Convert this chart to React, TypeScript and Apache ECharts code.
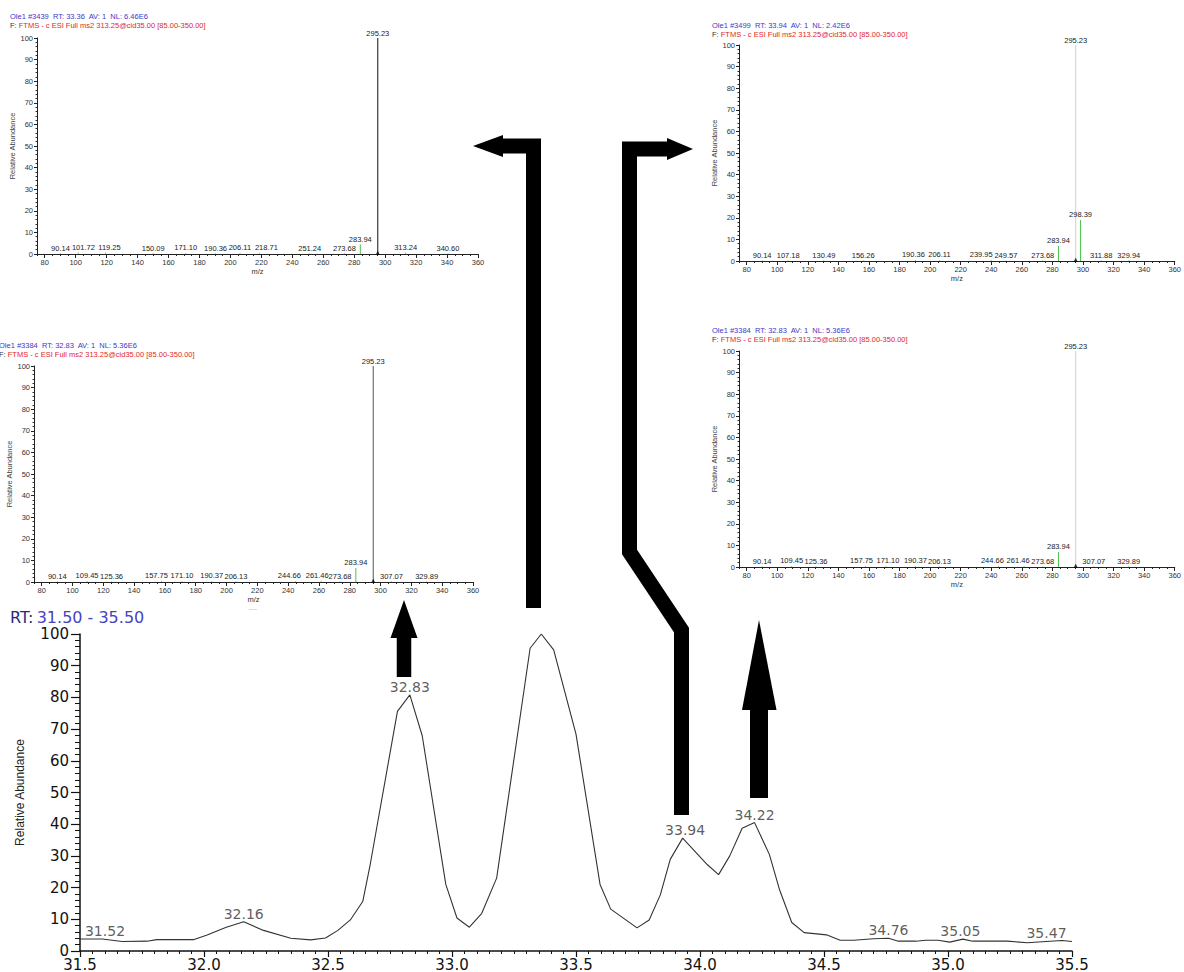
import React, { useEffect, useRef } from 'react';
import * as echarts from 'echarts';

// ---------- Chromatogram data ----------
const rtValues = [
  31.5, 31.59, 31.67, 31.77, 31.81, 31.96, 32.01, 32.09, 32.16, 32.24, 32.35, 32.43, 32.49, 32.54,
  32.59, 32.64, 32.67, 32.78, 32.83, 32.88, 32.975, 33.02, 33.07, 33.12, 33.18, 33.315, 33.36,
  33.41, 33.5, 33.597, 33.64, 33.746, 33.795, 33.84, 33.88, 33.93, 34.03, 34.075, 34.12, 34.17,
  34.22, 34.28, 34.32, 34.37, 34.42, 34.51, 34.565, 34.62, 34.7, 34.76, 34.8, 34.87, 34.91, 34.96,
  35.007, 35.06, 35.1, 35.18, 35.24, 35.32, 35.395, 35.46, 35.5,
];
const abundance = [
  3.8, 3.8, 3.0, 3.1, 3.6, 3.6, 5.0, 7.5, 9.2, 6.5, 4.0, 3.5, 4.1, 6.5,
  9.8, 15.6, 27.2, 75.6, 80.8, 67.9, 21, 10.4, 7.5, 11.9, 23, 95.5, 100,
  95, 68.4, 21, 13.2, 7.3, 9.8, 17.7, 28.9, 35.6, 27.2, 24.1, 30, 38.75,
  40.5, 30.4, 19.5, 9, 5.8, 5.1, 3.4, 3.4, 3.85, 4.0, 3.1, 3.1, 3.4, 3.4,
  2.8, 3.75, 3.1, 3.1, 3.1, 2.6, 3.0, 3.3, 3.0,
];
const peakRT = [31.52, 32.16, 32.83, 33.94, 34.22, 34.76, 35.05, 35.47];
const peakAbundance = [3.8, 9.2, 80.8, 35.6, 40.5, 4.0, 3.75, 3.3];
const rtTitle = '31.50 - 35.50';

// ---------- MS2 spectra data ----------
const mzA = [90.14, 101.72, 119.25, 150.09, 171.1, 190.36, 206.11, 218.71, 251.24, 273.68, 283.94, 295.23, 313.24, 340.6];
const intA = [0.3, 0.8, 0.8, 0.3, 0.5, 0.4, 0.5, 0.6, 0.3, 0.4, 4.5, 100, 0.8, 0.3];
const mzB = [90.14, 107.18, 130.49, 156.26, 190.36, 206.11, 239.95, 249.57, 273.68, 283.94, 295.23, 298.39, 311.88, 329.94];
const intB = [0.3, 0.3, 0.3, 0.3, 0.5, 0.5, 0.6, 0.4, 0.4, 7, 100, 19, 0.3, 0.3];
const mzC = [90.14, 109.45, 125.36, 157.75, 171.1, 190.37, 206.13, 244.66, 261.46, 273.68, 283.94, 295.23, 307.07, 329.89];
const intC = [0.3, 0.5, 0.3, 0.6, 0.5, 0.5, 0.3, 0.5, 0.5, 0.4, 6.5, 100, 0.3, 0.3];
const mzD = [90.14, 109.45, 125.36, 157.75, 171.1, 190.37, 206.13, 244.66, 261.46, 273.68, 283.94, 295.23, 307.07, 329.89];
const intD = [0.3, 0.5, 0.3, 0.6, 0.5, 0.5, 0.3, 0.5, 0.5, 0.4, 7, 100, 0.3, 0.3];
const scanA = 'Ole1 #3439  RT: 33.36  AV: 1  NL: 6.46E6';
const scanB = 'Ole1 #3499  RT: 33.94  AV: 1  NL: 2.42E6';
const scanC = 'Ole1 #3384  RT: 32.83  AV: 1  NL: 5.36E6';
const scanD = 'Ole1 #3384  RT: 32.83  AV: 1  NL: 5.36E6';
const filterLine = 'FTMS - c ESI Full ms2 313.25@cid35.00 [85.00-350.00]';
const precursorMz = 295.23;
const mzTicks = [80, 100, 120, 140, 160, 180, 200, 220, 240, 260, 280, 300, 320, 340, 360];

const FS = 'Liberation Sans, Arial, sans-serif';
const FM = 'DejaVu Sans, Verdana, sans-serif';

export default function App() {
  const ref = useRef<HTMLDivElement>(null);
  useEffect(() => {
    if (!ref.current) return;
    const chart = echarts.init(ref.current, undefined, { renderer: 'svg' });

    // label horizontal nudges (px) to keep crowded peak labels apart, as in the original
    const panels = [
      { mz: mzA, it: intA, scan: scanA, left: 37, top: 38, width: 441, main: '#111', hx: 10, hy: 16,
        shift: { 1: 5, 2: 4, 7: 7 } as Record<number, number> },
      { mz: mzB, it: intB, scan: scanB, left: 739, top: 45, width: 440, main: '#cfcfcf', hx: 712, hy: 25,
        shift: { 4: -2, 6: -10 } as Record<number, number> },
      { mz: mzC, it: intC, scan: scanC, left: 34, top: 366, width: 439, main: '#555', hx: -1, hy: 345,
        shift: { 3: -5, 7: -6, 8: -4 } as Record<number, number> },
      { mz: mzD, it: intD, scan: scanD, left: 739, top: 351, width: 440, main: '#cfcfcf', hx: 712, hy: 330,
        shift: { 3: -4, 4: 2, 7: -6, 8: -6 } as Record<number, number> },
    ];

    const grid: any[] = [];
    const xAxis: any[] = [];
    const yAxis: any[] = [];
    const series: any[] = [];
    const graphic: any[] = [];

    panels.forEach((p, i) => {
      grid.push({ left: p.left, top: p.top, width: p.width, height: 216 });
      xAxis.push({
        type: 'value', gridIndex: i, min: 75, max: 360, position: 'bottom',
        name: 'm/z', nameLocation: 'middle', nameGap: 13,
        nameTextStyle: { fontSize: 7.5, color: '#333', fontFamily: FS },
        axisLine: { show: true, onZero: false, lineStyle: { color: '#222', width: 1 } },
        axisTick: { show: true, length: 4, customValues: mzTicks, lineStyle: { color: '#222' } },
        axisLabel: { show: true, customValues: mzTicks, fontSize: 7.5, color: '#333', margin: 4, fontFamily: FS },
        splitLine: { show: false },
      });
      xAxis.push({
        type: 'value', gridIndex: i, min: 75, max: 360, interval: 5, position: 'bottom',
        axisLine: { show: false, onZero: false },
        axisTick: { show: true, length: 2, lineStyle: { color: '#222' } },
        axisLabel: { show: false },
        splitLine: { show: false },
      });
      yAxis.push({
        type: 'value', gridIndex: i, min: 0, max: 100, interval: 10,
        name: 'Relative Abundance', nameLocation: 'middle', nameGap: 17,
        nameTextStyle: { fontSize: 7.5, color: '#444', fontFamily: FS },
        axisLine: { show: true, lineStyle: { color: '#222', width: 1 } },
        axisTick: { show: true, length: 3, lineStyle: { color: '#222' } },
        minorTick: { show: true, splitNumber: 5, length: 1.5, lineStyle: { color: '#333' } },
        axisLabel: { fontSize: 7.5, color: '#333', margin: 4, fontFamily: FS },
        splitLine: { show: false },
      });
      series.push({
        type: 'bar', xAxisIndex: 2 * i, yAxisIndex: i, barWidth: 1,
        data: p.mz.map((m, k) => {
          const d: any = {
            value: [m, p.it[k]],
            itemStyle: { color: p.it[k] >= 100 ? p.main : p.it[k] > 2 ? '#4cc44c' : '#8fd08f' },
          };
          if (p.shift[k]) d.label = { offset: [p.shift[k], 0] };
          return d;
        }),
        label: {
          show: true, position: 'top', distance: 1, fontSize: 7.5, color: '#222', fontFamily: FS,
          formatter: (q: any) => q.value[0].toFixed(2),
        },
      });
      series.push({
        type: 'scatter', xAxisIndex: 2 * i, yAxisIndex: i, symbol: 'triangle', symbolSize: 4,
        itemStyle: { color: '#000' }, data: [[precursorMz, 0.6]], silent: true,
      });
      graphic.push({
        type: 'text', x: p.hx, y: p.hy,
        style: { text: p.scan, fontSize: 7.5, fontFamily: FS, fill: '#3a3acc', verticalAlign: 'middle' },
      });
      graphic.push({
        type: 'text', x: p.hx, y: p.hy + 9,
        style: {
          text: '{a|F:} {b|' + filterLine + '}', verticalAlign: 'middle', fontSize: 7.5, fontFamily: FS,
          rich: { a: { fill: '#333', fontSize: 7.5, fontFamily: FS }, b: { fill: '#e02828', fontSize: 7.5, fontFamily: FS } },
        },
      });
    });

    // main chromatogram
    grid.push({ left: 80, top: 634, width: 992, height: 320 });
    xAxis.push({
      type: 'value', gridIndex: 4, min: 31.5, max: 35.5, interval: 0.5,
      axisLine: { show: true, lineStyle: { color: '#111', width: 1.5 } },
      axisTick: { show: true, length: 6, lineStyle: { color: '#111', width: 1.2 } },
      minorTick: { show: true, splitNumber: 10, length: 3, lineStyle: { color: '#111' } },
      axisLabel: { fontSize: 15, color: '#111', fontFamily: FM, margin: 6, formatter: (v: number) => v.toFixed(1) },
      splitLine: { show: false },
    });
    yAxis.push({
      type: 'value', gridIndex: 4, min: 0, max: 100, interval: 10,
      name: 'Relative Abundance', nameLocation: 'middle', nameGap: 54,
      nameTextStyle: { fontSize: 12, color: '#222', fontFamily: FS },
      axisLine: { show: true, lineStyle: { color: '#111', width: 1.5 } },
      axisTick: { show: true, length: 9, lineStyle: { color: '#111', width: 1.2 } },
      minorTick: { show: true, splitNumber: 5, length: 5, lineStyle: { color: '#111' } },
      axisLabel: { fontSize: 15, color: '#111', fontFamily: FM, margin: 11 },
      splitLine: { show: false },
    });
    series.push({
      type: 'line', xAxisIndex: 8, yAxisIndex: 4, symbol: 'none',
      lineStyle: { color: '#333', width: 1.1 },
      data: rtValues.map((t, k) => [t, abundance[k]]),
    });
    series.push({
      type: 'scatter', xAxisIndex: 8, yAxisIndex: 4, symbolSize: 0, silent: true,
      data: peakRT.map((t, k) => {
        const d: any = { value: [t, peakAbundance[k]] };
        if (k === 0) d.label = { align: 'left', offset: [0, 0] };
        if (k === peakRT.length - 1) d.label = { align: 'right', offset: [2, 0] };
        return d;
      }),
      label: {
        show: true, position: 'top', distance: 1, fontSize: 14, color: '#333', fontFamily: FM,
        formatter: (q: any) => q.value[0].toFixed(2),
      },
    });

    graphic.push({
      type: 'text', x: 10, y: 617,
      style: {
        text: '{a|RT:} {b|' + rtTitle + '}', verticalAlign: 'middle',
        rich: {
          a: { fill: '#2a2a7a', fontSize: 16, fontFamily: FM },
          b: { fill: '#4545c0', fontSize: 16, fontFamily: FM },
        },
      },
    });
    graphic.push({
      type: 'text', x: 253, y: 607,
      style: { text: '....', fontSize: 7, fill: '#888', align: 'center', verticalAlign: 'middle', fontFamily: FS },
    });

    // arrows
    const shaft = (pts: number[][], w: number) => ({
      type: 'polyline', shape: { points: pts },
      style: { stroke: '#000', lineWidth: w, fill: 'none', lineJoin: 'miter', lineCap: 'butt' }, z: 10,
    });
    const head = (pts: number[][]) => ({ type: 'polygon', shape: { points: pts }, style: { fill: '#000' }, z: 10 });
    graphic.push(shaft([[404, 677], [404, 636]], 14.5));
    graphic.push(head([[390.5, 638], [404, 600], [417.5, 638]]));
    graphic.push(shaft([[533.5, 608], [533.5, 146], [501, 146]], 15));
    graphic.push(head([[503, 135], [473, 146], [503, 157]]));
    graphic.push(shaft([[681.5, 815], [681.5, 630], [629.5, 552], [629.5, 149], [668, 149]], 15));
    graphic.push(head([[667, 138], [693, 149], [667, 160]]));
    graphic.push(shaft([[759, 798], [759, 708]], 18));
    graphic.push(head([[742, 710], [759, 620], [776.5, 710]]));

    chart.setOption({
      animation: false,
      backgroundColor: '#fff',
      grid, xAxis, yAxis, series, graphic,
    });
    return () => chart.dispose();
  }, []);
  return <div ref={ref} style={{ position: 'fixed', left: 0, top: 0, width: 1184, height: 972 }} />;
}
